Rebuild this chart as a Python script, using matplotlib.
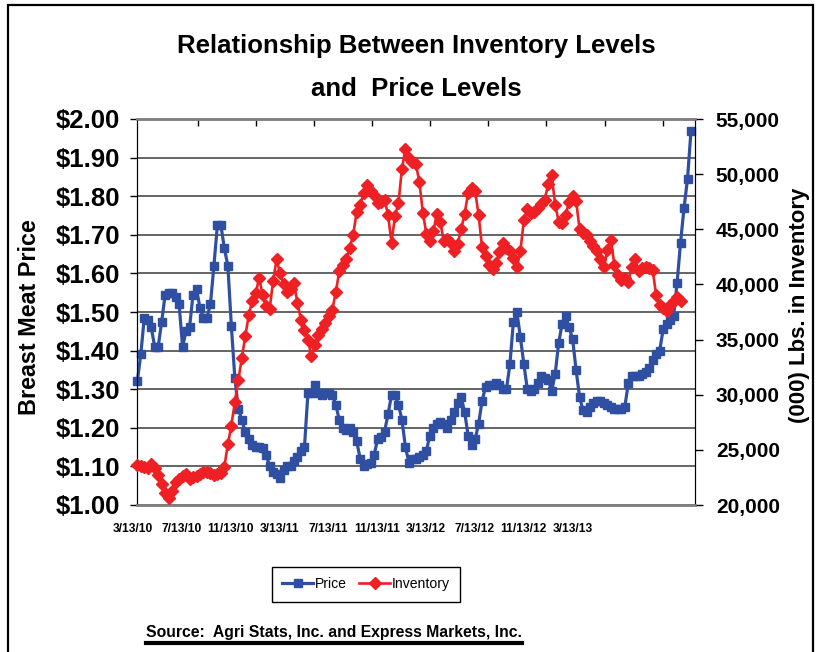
import numpy as np
import matplotlib
matplotlib.use("Agg")
from matplotlib import pyplot as plt
from matplotlib import font_manager
from matplotlib.lines import Line2D
from matplotlib.patches import Rectangle
from matplotlib.ticker import FuncFormatter

# weekly breast meat price ($/lb)
price = [1.32, 1.39, 1.485, 1.48, 1.46, 1.41, 1.41, 1.475, 1.545, 1.55,
         1.55, 1.54, 1.52, 1.41, 1.45, 1.46, 1.545, 1.56, 1.51, 1.485,
         1.485, 1.52, 1.62, 1.725, 1.725, 1.665, 1.62, 1.465, 1.33, 1.25,
         1.22, 1.19, 1.17, 1.155, 1.15, 1.15, 1.148, 1.13, 1.10, 1.085,
         1.08, 1.07, 1.09, 1.10, 1.10, 1.115, 1.125, 1.14, 1.15, 1.29,
         1.29, 1.31, 1.29, 1.285, 1.29, 1.29, 1.285, 1.26, 1.22, 1.20,
         1.195, 1.20, 1.19, 1.165, 1.12, 1.10, 1.105, 1.11, 1.13, 1.17,
         1.175, 1.19, 1.235, 1.285, 1.285, 1.26, 1.22, 1.15, 1.11, 1.12,
         1.12, 1.125, 1.13, 1.14, 1.18, 1.20, 1.21, 1.215, 1.21, 1.20,
         1.22, 1.24, 1.265, 1.28, 1.24, 1.18, 1.155, 1.17, 1.21, 1.27,
         1.305, 1.31, 1.31, 1.315, 1.31, 1.30, 1.30, 1.365, 1.475, 1.50,
         1.435, 1.365, 1.30, 1.295, 1.30, 1.315, 1.335, 1.33, 1.325, 1.295,
         1.34, 1.42, 1.47, 1.49, 1.46, 1.43, 1.35, 1.28, 1.245, 1.24,
         1.255, 1.265, 1.27, 1.27, 1.265, 1.26, 1.255, 1.25, 1.25, 1.25,
         1.255, 1.315, 1.335, 1.335, 1.335, 1.34, 1.345, 1.355, 1.375, 1.39,
         1.40, 1.455, 1.47, 1.48, 1.49, 1.575, 1.68, 1.77, 1.845, 1.97]

# weekly inventory, (000) lbs -- last weeks not reported yet
inventory = [23630, 23500, 23450, 23330, 23700, 23400, 22700, 21900, 21100, 20600,
             21300, 22100, 22400, 22600, 22800, 22400, 22500, 22650, 22850, 22950,
             23000, 22870, 22750, 22800, 22870, 23480, 25500, 27200, 29300, 31300,
             33300, 35300, 37200, 38500, 39200, 40600, 39000, 38000, 37800, 40300,
             42300, 41000, 40000, 39300, 39600, 40100, 38300, 36800, 35900, 35000,
             33500, 34500, 35400, 36000, 36500, 37100, 37700, 39300, 41200, 41800,
             42300, 43300, 44500, 46600, 47200, 48300, 49000, 48500, 48100, 47400,
             47500, 47700, 46300, 43800, 46200, 47400, 50500, 52300, 51500, 51100,
             50900, 49300, 46500, 44600, 43900, 44800, 46400, 45700, 43900, 44100,
             43800, 43000, 43700, 45000, 46400, 48300, 48700, 48500, 46300, 43400,
             42600, 41800, 41400, 41900, 42900, 43800, 43300, 43000, 42400, 41600,
             43000, 45800, 46800, 46450, 46550, 46900, 47300, 47700, 49100, 49900,
             47200, 45700, 45600, 46300, 47500, 48000, 47600, 45000, 44700, 44500,
             43900, 43500, 43000, 42300, 41600, 43100, 44000, 41800, 40900, 40400,
             40550, 40250, 41600, 42300, 41200, 41500, 41550, 41450, 41300, 39000,
             38100, 37900, 37600, 38100, 38500, 38900, 38500, None, None, None]

date_labels = ["3/13/10", "7/13/10", "11/13/10", "3/13/11", "7/13/11",
               "11/13/11", "3/13/12", "7/13/12", "11/13/12", "3/13/13"]

price_ticks = np.round(np.arange(1.0, 2.001, 0.1), 2)
inv_ticks = np.arange(20000, 55001, 5000)

blue = "#2F4FA2"
red = "#EE2024"

names = {f.name for f in font_manager.fontManager.ttflist}
bold_font = "Liberation Sans" if "Liberation Sans" in names else "DejaVu Sans"
if "Liberation Sans Narrow" in names:
    narrow_font, narrow_scale = "Liberation Sans Narrow", 1.0
else:
    narrow_font, narrow_scale = bold_font, 0.84

W, H = 822, 652
fig = plt.figure(figsize=(W / 100, H / 100), dpi=100)
ax = fig.add_axes([137 / W, 1 - 505 / H, (695 - 137) / W, (505 - 119) / H])
ax2 = ax.twinx()

x = np.arange(len(price))
inv = np.array([np.nan if v is None else v for v in inventory], dtype=float)

l1, = ax.plot(x, price, color=blue, lw=2.3, marker="s", ms=6, mec=blue,
              clip_on=False, zorder=3, label="Price")
l2, = ax2.plot(x, inv, color=red, lw=1.9, marker="D", ms=6, mec=red,
               clip_on=False, zorder=3, label="Inventory")

step = (691 - 136.7) / (len(price) - 1)
ax.set_xlim(-0.3 / step, len(price) - 1 + 4 / step)
ax.set_ylim(1.0, 2.0)
ax2.set_ylim(20000, 55000)

# left axis
ax.set_yticks(price_ticks)
ax.yaxis.set_major_formatter(FuncFormatter(lambda v, p: f"${v:.2f}"))
ax.tick_params(axis="y", direction="out", length=5, width=1, pad=7,
               labelsize=18.5)
for t in ax.get_yticklabels():
    t.set_fontweight("bold")
    t.set_family(bold_font)
ax.yaxis.grid(True, color="#3a3a3a", lw=1.1)
ax.set_axisbelow(True)

# right axis
ax2.set_yticks(inv_ticks)
ax2.yaxis.set_major_formatter(FuncFormatter(lambda v, p: f"{int(v):,}"))
ax2.tick_params(axis="y", direction="out", length=6, width=1, pad=9,
                labelsize=15)
for t in ax2.get_yticklabels():
    t.set_fontweight("bold")
    t.set_family(bold_font)

# bottom: no ticks, labels placed on a slightly different spacing (as in the sheet)
ax.set_xticks([])
label_pos = [-1.35 + 14.03 * k for k in range(len(date_labels))]
for pos, lab in zip(label_pos, date_labels):
    ax.text(pos, -0.062, lab, transform=ax.get_xaxis_transform(),
            ha="center", va="center", fontsize=10.3 * narrow_scale,
            fontweight="bold", family=narrow_font, clip_on=False)

# top tick marks
sec = ax.secondary_xaxis("top")
sec.set_xticks([16.7 * k + 0.6 for k in range(1, 10)])
sec.set_xticklabels([])
sec.tick_params(direction="in", length=5, width=1)
sec.spines["top"].set_visible(False)

for a in (ax, ax2):
    a.spines["top"].set_color("#808080")
    a.spines["top"].set_linewidth(1.8)
    a.spines["bottom"].set_color("#808080")
    a.spines["bottom"].set_linewidth(1.8)
    a.spines["left"].set_color("black")
    a.spines["right"].set_color("black")

# titles
fig.text(416 / W, 1 - 53 / H, "Relationship Between Inventory Levels",
         ha="center", va="baseline", fontsize=18.5, fontweight="bold",
         family=bold_font)
fig.text(416 / W, 1 - 96 / H, "and  Price Levels", ha="center",
         va="baseline", fontsize=18.5, fontweight="bold", family=bold_font)
fig.text(29 / W, 1 - 317 / H, "Breast Meat Price", rotation=90, ha="center",
         va="center", fontsize=16.8, fontweight="bold", family=bold_font)
fig.text(799 / W, 1 - 305 / H, "(000) Lbs. in Inventory", rotation=90,
         ha="center", va="center", fontsize=16, fontweight="bold",
         family=bold_font)

leg = fig.legend([l1, l2], ["Price", "Inventory"], loc="center",
                 bbox_to_anchor=(366 / W, 1 - 584 / H), ncol=2,
                 frameon=True, fancybox=False, edgecolor="black",
                 framealpha=1, handlelength=2.2, handletextpad=0.12,
                 columnspacing=0.9, borderpad=0.75, borderaxespad=0,
                 prop={"family": narrow_font, "size": 12 * narrow_scale})
leg.get_frame().set_linewidth(1.0)

src = fig.text(334 / W, 1 - 637 / H,
               "Source:  Agri Stats, Inc. and Express Markets, Inc.",
               ha="center", va="baseline", fontsize=13.5 * narrow_scale,
               fontweight="bold", family=narrow_font)

# underline the source line
fig.canvas.draw()
bb = src.get_window_extent()
uy = 1 - 643 / H
fig.add_artist(Line2D([bb.x0 / W, bb.x1 / W], [uy, uy],
                      transform=fig.transFigure, color="black", lw=3))

# outer frame of the slide
fig.add_artist(Rectangle((8 / W, -0.05), (813 - 8) / W, 1 - 5 / H + 0.05,
                         transform=fig.transFigure, fill=False,
                         edgecolor="black", lw=1.6))

fig.savefig("out.png", dpi=100)
